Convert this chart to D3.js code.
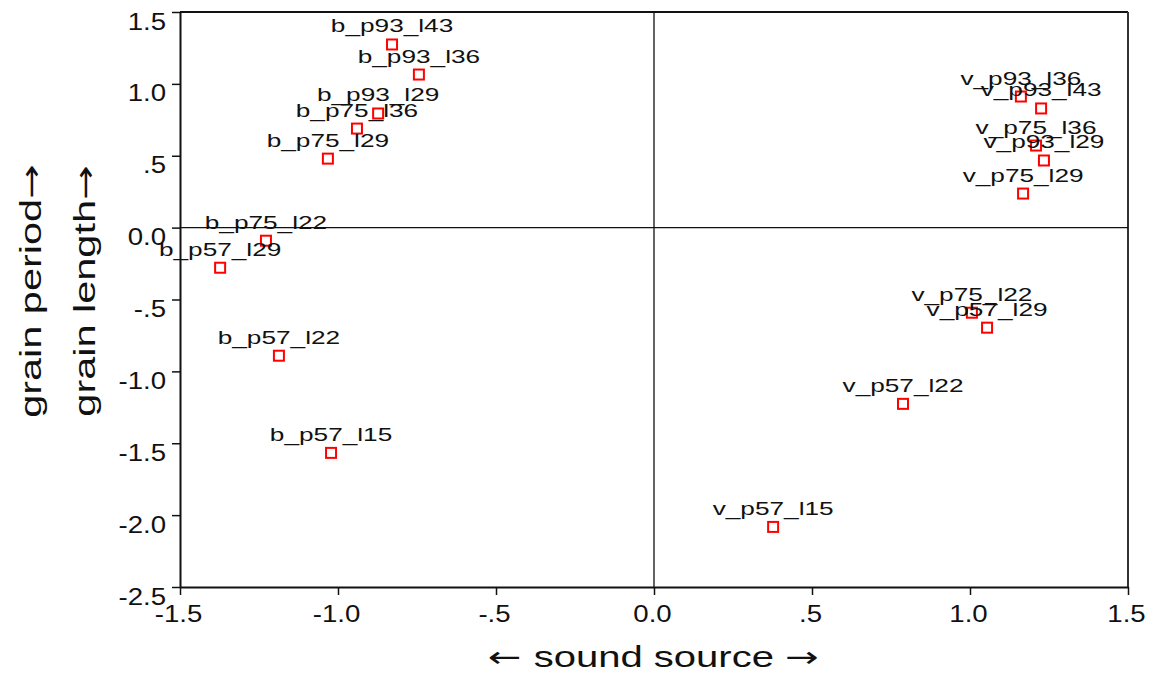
<!DOCTYPE html>
<html>
<head>
<meta charset="utf-8">
<script src="https://cdn.jsdelivr.net/npm/d3@7"></script>
<style>
  body { margin: 0; background: #fff; }
  svg { display: block; }
  text { font-family: "Liberation Sans", Arial, sans-serif; fill: #111; }
  .arrow { font-family: "DejaVu Sans", sans-serif; }
</style>
</head>
<body>
<div id="chart"></div>
<script>
// points
const pointLabels = [
  "b_p93_l43", "b_p93_l36", "b_p93_l29", "b_p75_l36", "b_p75_l29",
  "b_p75_l22", "b_p57_l29", "b_p57_l22", "b_p57_l15",
  "v_p57_l15", "v_p57_l22", "v_p75_l22", "v_p57_l29",
  "v_p93_l36", "v_p93_l43", "v_p75_l36", "v_p93_l29", "v_p75_l29"
];
const soundSource = [
  -0.829, -0.744, -0.873, -0.940, -1.032,
  -1.228, -1.373, -1.187, -1.022,
  0.377, 0.788, 1.006, 1.054,
  1.161, 1.225, 1.209, 1.234, 1.168
];
const grainValues = [
  1.274, 1.065, 0.794, 0.689, 0.480,
  -0.091, -0.279, -0.891, -1.567,
  -2.082, -1.226, -0.592, -0.696,
  0.912, 0.829, 0.571, 0.467, 0.237
];
const xTicks = [-1.5, -1.0, -0.5, 0, 0.5, 1.0, 1.5];
const xTickLabels = ["-1.5", "-1.0", "-.5", "0.0", ".5", "1.0", "1.5"];
const yTicks = [1.5, 1.0, 0.5, 0, -0.5, -1.0, -1.5, -2.0, -2.5];
const yTickLabels = ["1.5", "1.0", ".5", "0.0", "-.5", "-1.0", "-1.5", "-2.0", "-2.5"];

const width = 1153, height = 675;
const plotLeft = 180, plotRight = 1128, plotTop = 12, plotBottom = 587;

const svg = d3.select("#chart").append("svg")
  .attr("width", width).attr("height", height);

const x = d3.scaleLinear().domain([-1.5, 1.5]).range([plotLeft, plotRight]);
const y = d3.scaleLinear().domain([-2.5, 1.5]).range([plotBottom, plotTop]);

// frame lines (top and right)
svg.append("line").attr("x1", plotLeft).attr("x2", plotRight).attr("y1", plotTop).attr("y2", plotTop)
  .attr("stroke", "#111").attr("stroke-width", 2);
svg.append("line").attr("x1", plotRight).attr("x2", plotRight).attr("y1", plotTop).attr("y2", plotBottom)
  .attr("stroke", "#333").attr("stroke-width", 2);

// zero reference lines
svg.append("line").attr("x1", plotLeft).attr("x2", plotRight).attr("y1", y(0)).attr("y2", y(0))
  .attr("stroke", "#111").attr("stroke-width", 1.3);
svg.append("line").attr("x1", x(0)).attr("x2", x(0)).attr("y1", plotTop).attr("y2", plotBottom)
  .attr("stroke", "#111").attr("stroke-width", 1.3);

// horizontal stretch for text, the reference glyphs are wide
function stretch(sel, sx) {
  sel.each(function () {
    const t = d3.select(this);
    const tx = +t.attr("x") || 0, ty = +t.attr("y") || 0;
    t.attr("transform", `translate(${tx},${ty}) scale(${sx},1)`).attr("x", 0).attr("y", 0);
  });
}

const xAxis = svg.append("g")
  .attr("transform", `translate(0,${plotBottom})`)
  .call(d3.axisBottom(x).tickValues(xTicks).tickSize(8).tickSizeOuter(0)
    .tickFormat((d, i) => xTickLabels[i]));
const yAxis = svg.append("g")
  .attr("transform", `translate(${plotLeft},0)`)
  .call(d3.axisLeft(y).tickValues(yTicks).tickSize(8).tickSizeOuter(0)
    .tickFormat((d, i) => yTickLabels[i]));

[xAxis, yAxis].forEach(a => {
  a.select(".domain").attr("stroke", "#111").attr("stroke-width", 2);
  a.selectAll(".tick line").attr("stroke", "#111").attr("stroke-width", 1.5);
  a.selectAll(".tick text").style("font-size", "23px").attr("fill", "#111")
    .style("font-family", "'Liberation Sans', Arial, sans-serif");
});
xAxis.selectAll(".tick text").attr("x", -2).attr("y", 35).attr("dy", null)
  .attr("text-anchor", "middle").call(stretch, 1.2);
yAxis.selectAll(".tick text").attr("x", -14).attr("y", 17).attr("dy", null)
  .attr("text-anchor", "end").call(stretch, 1.2);

// markers
svg.append("g").selectAll("rect")
  .data(pointLabels)
  .join("rect")
  .attr("x", (d, i) => x(soundSource[i]) - 5)
  .attr("y", (d, i) => y(grainValues[i]) - 5)
  .attr("width", 10).attr("height", 10)
  .attr("fill", "#fff").attr("stroke", "#ff0000").attr("stroke-width", 2);

// point labels
svg.append("g").selectAll("text")
  .data(pointLabels)
  .join("text")
  .attr("x", (d, i) => x(soundSource[i]))
  .attr("y", (d, i) => y(grainValues[i]) - 12)
  .attr("text-anchor", "middle")
  .style("font-size", "19px")
  .text(d => d)
  .call(stretch, 1.38);

// axis titles
const xTitle = svg.append("text")
  .attr("x", 653).attr("y", 667)
  .attr("text-anchor", "middle")
  .style("font-size", "29px");
xTitle.append("tspan").attr("class", "arrow").text("\u2190 ");
xTitle.append("tspan").text("sound source ");
xTitle.append("tspan").attr("class", "arrow").text("\u2192");
xTitle.call(stretch, 1.38);

[["grain period", 41], ["grain length", 95]].forEach(([txt, bx]) => {
  const t = svg.append("text")
    .attr("transform", `translate(${bx},291) rotate(-90) scale(1.43,1)`)
    .attr("text-anchor", "middle")
    .style("font-size", "29px");
  t.append("tspan").text(txt);
  t.append("tspan").attr("class", "arrow").text("\u2192");
});
</script>
</body>
</html>
